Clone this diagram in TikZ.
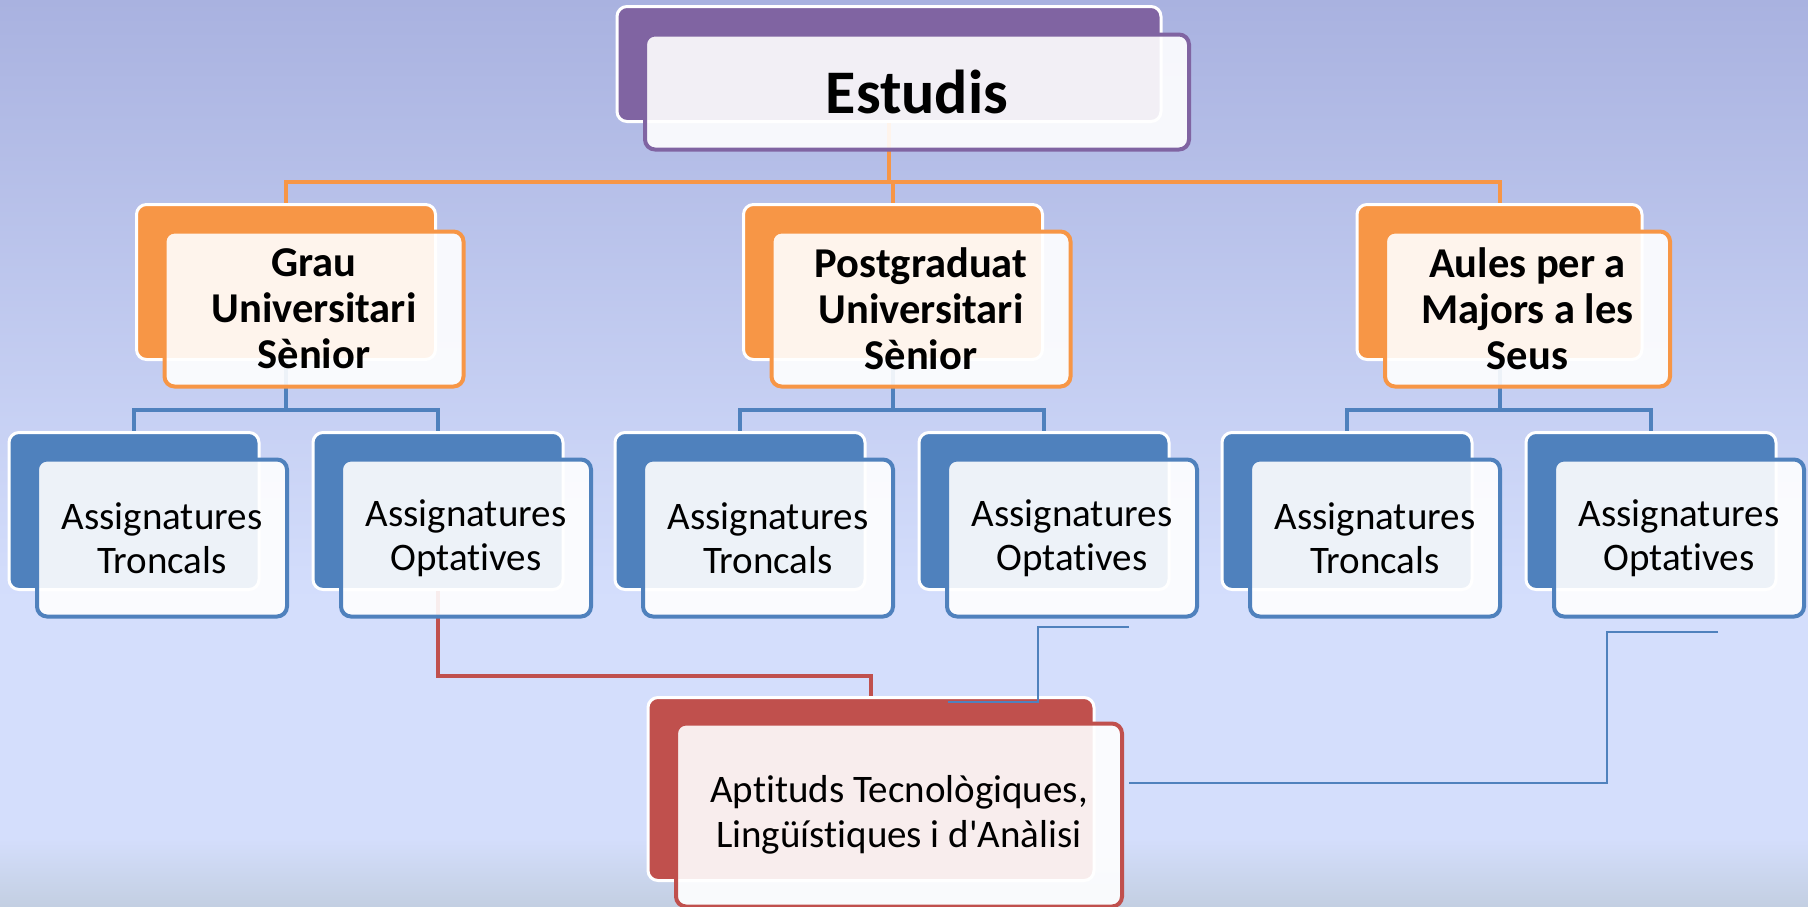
\documentclass[tikz,border=0pt]{standalone}
\usepackage{fontspec}
\setmainfont{Carlito}[Ligatures=TeXOff, RawFeature={-liga;-clig;-dlig;-calt}]
\usetikzlibrary{calc}
\definecolor{bgtop}{HTML}{A9B2E0}
\definecolor{bgmid}{HTML}{D4DEFC}
\definecolor{bgbot}{HTML}{C3CFE2}
\definecolor{cpurple}{HTML}{8064A2}
\definecolor{corange}{HTML}{F79646}
\definecolor{cblue}{HTML}{4F81BD}
\definecolor{cred}{HTML}{C0504D}
\tikzset{
  backbox/.style={draw=white, line width=3pt, rounded corners=10pt, inner sep=0pt},
  frontbox/.style={fill=white, fill opacity=0.9, text opacity=1, text=black, line width=4pt, rounded corners=10pt, inner sep=0pt, align=center},
  size1/.style={minimum width=544pt, minimum height=115pt},
  size2/.style={minimum width=299pt, minimum height=155pt},
  size3/.style={minimum width=250pt, minimum height=157pt},
  size4/.style={minimum width=446pt, minimum height=183pt},
  narrow/.style={minimum width=285pt},
  back1/.style={backbox, size1, fill=cpurple},
  back2/.style={backbox, size2, fill=corange},
  back3/.style={backbox, size3, fill=cblue},
  back4/.style={backbox, size4, fill=cred},
  front1/.style={frontbox, size1, draw=cpurple, font=\fontsize{62}{70}\selectfont\bfseries},
  front2/.style={frontbox, size2, draw=corange, font=\fontsize{42.5}{46}\selectfont\bfseries},
  front3/.style={frontbox, size3, draw=cblue, font=\fontsize{39}{43.5}\selectfont},
  front4/.style={frontbox, size4, draw=cred, font=\fontsize{39}{45}\selectfont},
  orangeline/.style={draw=corange, line width=4pt},
  blueline/.style={draw=cblue, line width=4pt},
  redline/.style={draw=cred, line width=4pt},
  thinline/.style={draw=cblue, line width=1.6pt},
}
\begin{document}
\begin{tikzpicture}[x=1pt,y=-1pt]
\useasboundingbox (0,0) rectangle (1808,906);
% background
\fill[bgmid] (0,0) rectangle (1808,906);
\shade[top color=bgtop, bottom color=bgmid] (0,0) rectangle (1808,600);
\shade[top color=bgmid, bottom color=bgbot] (0,838) rectangle (1808,906);
% back boxes
\node[back1] (estB) at (889,64) {};
\node[back2] (grauB) at (286,282) {};
\node[back2] (postB) at (893,282) {};
\node[back2, narrow] (aulesB) at (1499.5,282) {};
\node[back3] (t1B) at (134,511) {};
\node[back3] (o1B) at (438,511) {};
\node[back3] (t2B) at (740,511) {};
\node[back3] (o2B) at (1044,511) {};
\node[back3] (t3B) at (1347,511) {};
\node[back3] (o3B) at (1651,511) {};
\node[back4] (aptB) at (871,789) {};
% connectors
\draw[orangeline] (estB.south) -- ++(0,59) -| (grauB.north);
\draw[orangeline] (estB.south) -- ++(0,59) -| (postB.north);
\draw[orangeline] (estB.south) -- ++(0,59) -| (aulesB.north);
\draw[blueline] (grauB.south) -- ++(0,49) -| (t1B.north);
\draw[blueline] (grauB.south) -- ++(0,49) -| (o1B.north);
\draw[blueline] (postB.south) -- ++(0,49) -| (t2B.north);
\draw[blueline] (postB.south) -- ++(0,49) -| (o2B.north);
\draw[blueline] (aulesB.south) -- ++(0,49) -| (t3B.north);
\draw[blueline] (aulesB.south) -- ++(0,49) -| (o3B.north);
\draw[redline] (o1B.south) -- ++(0,85) -| (aptB.north);
\coordinate (la) at (1129,627);
\coordinate (lb) at (948,702);
\coordinate (lm) at (1038,660);
\draw[thinline] (la) -- (la -| lm) -- (lm |- lb) -- (lb);
\coordinate (ma) at (1718,632);
\coordinate (mb) at (1129,783);
\coordinate (mm) at (1607,700);
\draw[thinline] (ma) -- (ma -| mm) -- (mm |- mb) -- (mb);
% front boxes
\node[front1] (est) at (917,92) {Estudis};
\node[front2] (grau) at (314,309) {Grau\\Universitari\\Sènior};
\node[front2] (post) at (921,309) {Postgraduat\\Universitari\\Sènior};
\node[front2, narrow] (aules) at (1527.5,309) {Aules per a\\Majors a les\\Seus};
\node[front3] (t1) at (162,538) {Assignatures\\Troncals};
\node[front3] (o1) at (466,538) {Assignatures\\Optatives};
\node[front3] (t2) at (768,538) {Assignatures\\Troncals};
\node[front3] (o2) at (1072,538) {Assignatures\\Optatives};
\node[front3] (t3) at (1375,538) {Assignatures\\Troncals};
\node[front3] (o3) at (1679,538) {Assignatures\\Optatives};
\node[front4] (apt) at (899,815) {Aptituds Tecnològiques,\\Lingüístiques i d'Anàlisi};
\end{tikzpicture}
\end{document}
